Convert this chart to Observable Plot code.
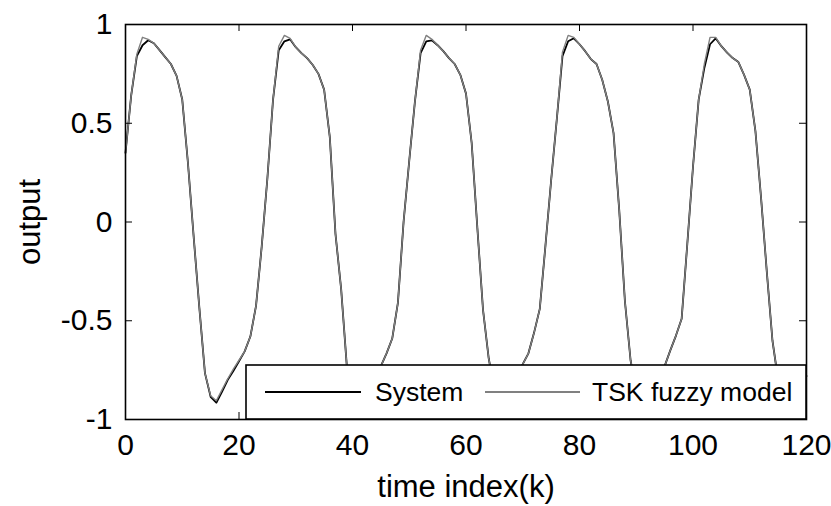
<!DOCTYPE html>
<html><head><meta charset="utf-8">
<script src="https://cdn.jsdelivr.net/npm/d3@7"></script>
<script src="https://cdn.jsdelivr.net/npm/@observablehq/plot@0.6"></script>
<style>
html,body{margin:0;padding:0;background:#fff;}
#chart{width:831px;height:506px;}
</style></head><body><div id="chart"></div>
<script>
// time index k = 0..120
const timeIndex = Array.from({length: 121}, (_, i) => i);

// System output
const system = [
  0.35, 0.64, 0.84, 0.895, 0.92, 0.905, 0.87, 0.835, 0.80, 0.74,
  0.62, 0.30, -0.07, -0.43, -0.765, -0.885, -0.915, -0.86, -0.80, -0.755,
  -0.705, -0.655, -0.58, -0.425, -0.125, 0.22, 0.62, 0.87, 0.915, 0.925,
  0.885, 0.855, 0.83, 0.795, 0.75, 0.67, 0.43, -0.06, -0.34, -0.73,
  -0.86, -0.91, -0.88, -0.83, -0.78, -0.73, -0.665, -0.59, -0.41, 0.0,
  0.31, 0.61, 0.855, 0.915, 0.92, 0.895, 0.865, 0.83, 0.80, 0.745,
  0.65, 0.40, -0.03, -0.445, -0.69, -0.85, -0.91, -0.88, -0.82, -0.765,
  -0.72, -0.665, -0.56, -0.44, -0.12, 0.21, 0.52, 0.84, 0.915, 0.93,
  0.90, 0.865, 0.825, 0.80, 0.72, 0.61, 0.45, 0.06, -0.40, -0.70,
  -0.86, -0.91, -0.89, -0.83, -0.77, -0.73, -0.65, -0.575, -0.49, -0.11,
  0.28, 0.62, 0.78, 0.90, 0.93, 0.89, 0.858, 0.83, 0.81, 0.745,
  0.67, 0.46, 0.12, -0.25, -0.60, -0.80, -0.89, -0.91, -0.88, -0.83,
  -0.78
];

// TSK fuzzy model output
const tskModel = [
  0.35, 0.64, 0.85, 0.935, 0.925, 0.905, 0.87, 0.835, 0.80, 0.74,
  0.62, 0.30, -0.07, -0.43, -0.765, -0.88, -0.905, -0.85, -0.795, -0.745,
  -0.70, -0.655, -0.58, -0.425, -0.125, 0.22, 0.62, 0.89, 0.945, 0.93,
  0.885, 0.855, 0.83, 0.795, 0.75, 0.67, 0.43, -0.06, -0.34, -0.73,
  -0.86, -0.905, -0.875, -0.83, -0.78, -0.73, -0.665, -0.59, -0.41, 0.0,
  0.31, 0.61, 0.87, 0.945, 0.925, 0.895, 0.865, 0.83, 0.80, 0.745,
  0.65, 0.40, -0.03, -0.445, -0.69, -0.85, -0.905, -0.875, -0.82, -0.765,
  -0.72, -0.665, -0.56, -0.44, -0.12, 0.21, 0.52, 0.86, 0.945, 0.935,
  0.90, 0.865, 0.825, 0.80, 0.72, 0.61, 0.45, 0.06, -0.40, -0.70,
  -0.86, -0.905, -0.885, -0.83, -0.77, -0.73, -0.65, -0.575, -0.49, -0.11,
  0.28, 0.62, 0.80, 0.935, 0.935, 0.89, 0.858, 0.83, 0.81, 0.745,
  0.67, 0.46, 0.12, -0.25, -0.60, -0.80, -0.885, -0.905, -0.875, -0.83,
  -0.78
];

const xTicks = [0, 20, 40, 60, 80, 100, 120];
const yTicks = [-1, -0.5, 0, 0.5, 1];
const seriesNames = ["System", "TSK fuzzy model"];
const seriesColors = ["#000000", "#808080"];
const xLabel = "time index(k)";
const yLabel = "output";

const W = 831, H = 506, mL = 125, mR = 25, mT = 24, mB = 87;
const innerW = W - mL - mR, innerH = H - mT - mB;
const TICK = 7;
const FONT = "'Liberation Sans', Arial, Helvetica, sans-serif";
const FS = 30;      // axis text
const FS_LEG = 26.5; // legend text

const sysRows = timeIndex.map((t, i) => ({t, v: system[i]}));
const tskRows = timeIndex.map((t, i) => ({t, v: tskModel[i]}));

const plot = Plot.plot({
  width: W, height: H,
  marginLeft: mL, marginRight: mR, marginTop: mT, marginBottom: mB,
  style: {fontFamily: FONT, fontSize: FS + "px", color: "#000", background: "#fff", overflow: "visible"},
  x: {domain: [0, 120]},
  y: {domain: [-1, 1]},
  marks: [
    Plot.lineY(sysRows, {x: "t", y: "v", stroke: seriesColors[0], strokeWidth: 1.8}),
    Plot.lineY(tskRows, {x: "t", y: "v", stroke: seriesColors[1], strokeWidth: 1.4}),
    Plot.tickX(xTicks, {x: d => d, insetTop: innerH - TICK, stroke: "#000"}),
    Plot.tickX(xTicks, {x: d => d, insetBottom: innerH - TICK, stroke: "#000"}),
    Plot.tickY(yTicks, {y: d => d, insetRight: innerW - TICK, stroke: "#000"}),
    Plot.tickY(yTicks, {y: d => d, insetLeft: innerW - TICK, stroke: "#000"}),
    Plot.axisX(xTicks, {anchor: "bottom", tickSize: 0, tickPadding: 14, tickFormat: d => String(d), label: null, fontSize: FS}),
    Plot.axisY(yTicks, {anchor: "left", tickSize: 0, tickPadding: 13, tickFormat: d => String(d), label: null, fontSize: FS}),
    Plot.frame({stroke: "#000", strokeWidth: 1.6}),
    Plot.text([xLabel], {text: d => d, frameAnchor: "bottom", textAnchor: "middle", dy: 77, fontSize: FS + 1}),
    Plot.text([yLabel], {text: d => d, frameAnchor: "left", textAnchor: "middle", dx: -95, rotate: -90, fontSize: FS + 1})
  ]
});

// legend box (MATLAB-style, lower right, opaque)
const svg = d3.select(plot);
const right = W - mR, bottom = H - mB;
const lx = 246, ly = 365;
const lg = svg.append("g").attr("font-family", FONT).attr("font-size", FS_LEG).attr("text-anchor", "start");
lg.append("rect").attr("x", lx).attr("y", ly).attr("width", right - lx).attr("height", bottom - ly)
  .attr("fill", "#fff").attr("stroke", "#000").attr("stroke-width", 1.6);
const cy = ly + (bottom - ly) / 2;
const items = [
  {x1: lx + 19, x2: lx + 115, tx: lx + 129},
  {x1: lx + 239, x2: lx + 334, tx: lx + 346}
];
items.forEach((it, i) => {
  lg.append("line").attr("x1", it.x1).attr("x2", it.x2).attr("y1", cy).attr("y2", cy)
    .attr("stroke", seriesColors[i]).attr("stroke-width", 1.8);
  lg.append("text").attr("x", it.tx).attr("y", cy).attr("dy", "0.35em")
    .attr("text-anchor", "start").attr("fill", "#000").text(seriesNames[i]);
});

document.getElementById("chart").appendChild(plot);
</script></body></html>
